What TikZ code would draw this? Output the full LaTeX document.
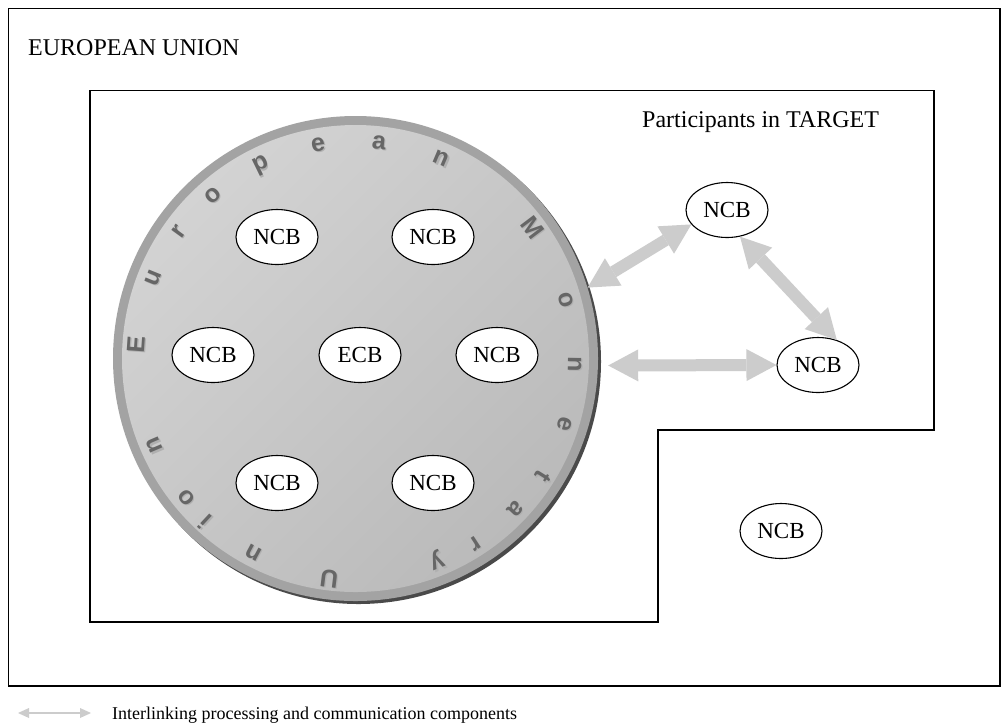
\documentclass[tikz,border=0pt]{standalone}
\usepackage{fontspec}
\setmainfont{Liberation Serif}
\newfontfamily\lsans{Liberation Sans}
\usetikzlibrary{arrows.meta,shapes.geometric,calc}
\definecolor{ringc}{HTML}{A3A3A3}
\definecolor{fillL}{HTML}{D3D3D3}
\definecolor{fillD}{HTML}{BABABA}
\definecolor{shadowc}{HTML}{4A4A4A}
\definecolor{letterc}{HTML}{666666}
\definecolor{lettersh}{HTML}{B0B0B0}
\definecolor{arrowc}{HTML}{CCCCCC}
\begin{document}
\begin{tikzpicture}[x=1pt,y=1pt,
  frame/.style={draw=black,line width=1.5pt},
  ell/.style={ellipse,draw=black,line width=1.1pt,fill=white,minimum width=82pt,minimum height=55pt,inner sep=0pt,font=\fontsize{23}{26}\selectfont},
  letter/.style={font=\lsans\bfseries\fontsize{25}{28}\selectfont,text=letterc,anchor=base,inner sep=0pt},
  lettershadow/.style={letter,text=lettersh},
  bigarrow/.style={draw=arrowc,line width=12pt,arrows={Triangle[width=32pt,length=30pt,line width=0pt,fill=arrowc]-Triangle[width=32pt,length=30pt,line width=0pt,fill=arrowc]}},
  legarrow/.style={draw=arrowc,line width=2pt,arrows={Triangle[width=10pt,length=11pt,line width=0pt,fill=arrowc]-Triangle[width=10pt,length=11pt,line width=0pt,fill=arrowc]}},
  label/.style={anchor=base west,inner sep=0pt,font=\fontsize{24}{28}\selectfont}
]
\useasboundingbox (0,0) rectangle (1003,-724);
\fill[white] (0,0) rectangle (1003,-724);

% frames
\draw[frame] (8.5,-8.5) rectangle (1000,-686);
\draw[frame] (90,-90.5) -- (934,-90.5) -- (934,-430) -- (658,-430) -- (658,-622) -- (90,-622) -- cycle;

\node[label] (eu) at (28,-55) {EUROPEAN UNION};
\node[label] (target) at (642,-127) {Participants in TARGET};

% European Monetary Union disc
\coordinate (cc) at (355.5,-358.5);
\fill[shadowc] ($(cc)+(3,-3)$) circle (242.5);
\fill[ringc] (cc) circle (242.5);
\shade[top color=fillL,bottom color=fillD,shading angle=45] (cc) circle (233.5);
\node[circle,minimum size=485pt,inner sep=0pt] (circ) at (cc) {};

\coordinate (lc) at (356,-360);
\foreach \ch/\a [count=\i] in {E/176,u/158,r/144,o/131,p/116,e/100,a/84,n/67,M/37,o/16,n/-1,e/-17,t/-32,a/-43,r/-57,y/-68,U/-97,n/-118,i/-133,o/-141,n/-157}
{
  \node[lettershadow,rotate=\a-90] (ls\i) at ($(lc)+(\a:212)+(1.2,-1.2)$) {\ch};
  \node[letter,rotate=\a-90] (l\i) at ($(lc)+(\a:212)$) {\ch};
}

% NCBs in EMU
\node[ell] (n1) at (277,-237) {NCB};
\node[ell] (n2) at (433,-237) {NCB};
\node[ell] (n3) at (213,-355) {NCB};
\node[ell] (ecb) at (360,-355) {ECB};
\node[ell] (n4) at (497,-355) {NCB};
\node[ell] (n5) at (277,-483) {NCB};
\node[ell] (n6) at (433,-483) {NCB};

% NCBs outside EMU
\node[ell] (ncbA) at (727,-210) {NCB};
\node[ell] (ncbB) at (818,-365) {NCB};
\node[ell] (ncbC) at (781,-531) {NCB};

% interlinking arrows
\draw[bigarrow] (circ.17) -- (ncbA.202);
\draw[bigarrow] (ncbA.296) -- (ncbB.53);
\draw[bigarrow] ([shift={(10,-7)}]circ.east) -- (ncbB.west);

% legend
\coordinate (la) at (18,-713);
\coordinate (lb) at (91,-713);
\draw[legarrow] (la) -- (lb);
\node[anchor=base west,inner sep=0pt,font=\fontsize{18}{21}\selectfont] (legend) at (112,-719) {Interlinking processing and communication components};
\end{tikzpicture}
\end{document}
